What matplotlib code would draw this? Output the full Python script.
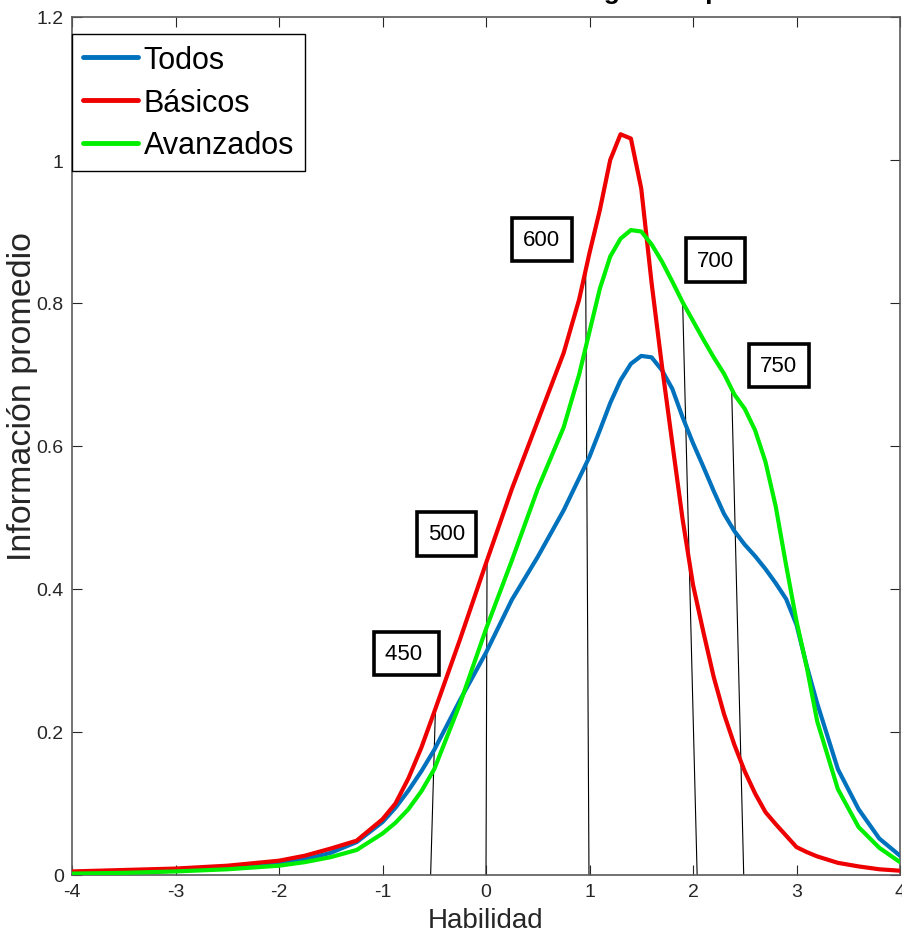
import matplotlib
matplotlib.use("Agg")
import matplotlib.pyplot as plt
from matplotlib import font_manager

SANS = ["Liberation Sans", "DejaVu Sans"]

# Ability grid (theta) and mean information per item group
theta = [-4.0, -3.5, -3.0, -2.5, -2.0, -1.75, -1.5, -1.25, -1.0, -0.875, -0.75, -0.625, -0.5, -0.25,
         0.0, 0.25, 0.5, 0.75, 0.9, 1.0, 1.1, 1.2, 1.3, 1.4, 1.5, 1.6, 1.7, 1.8, 1.9,
         2.0, 2.1, 2.2, 2.3, 2.4, 2.5, 2.6, 2.7, 2.8, 2.9, 3.0, 3.1, 3.2, 3.4, 3.6, 3.8, 4.0]

todos = [0.003, 0.004, 0.006, 0.010, 0.017, 0.022, 0.031, 0.046, 0.074, 0.094, 0.118, 0.145, 0.175, 0.245,
         0.311, 0.385, 0.445, 0.510, 0.555, 0.585, 0.622, 0.660, 0.692, 0.715, 0.726, 0.724, 0.706, 0.680, 0.640,
         0.604, 0.571, 0.537, 0.505, 0.481, 0.462, 0.446, 0.428, 0.408, 0.386, 0.350, 0.292, 0.240,
         0.148, 0.092, 0.051, 0.027]

basicos = [0.005, 0.007, 0.009, 0.013, 0.020, 0.027, 0.037, 0.048, 0.078, 0.100, 0.135, 0.178, 0.228, 0.330,
           0.436, 0.540, 0.635, 0.730, 0.805, 0.870, 0.930, 1.000, 1.036, 1.030, 0.960, 0.828, 0.712, 0.604, 0.497,
           0.406, 0.340, 0.277, 0.225, 0.182, 0.145, 0.114, 0.088, 0.071, 0.055, 0.039, 0.032, 0.026,
           0.017, 0.012, 0.008, 0.006]

avanzados = [0.002, 0.003, 0.005, 0.008, 0.013, 0.018, 0.025, 0.035, 0.058, 0.073, 0.092, 0.117, 0.148, 0.240,
             0.344, 0.440, 0.540, 0.626, 0.700, 0.760, 0.820, 0.865, 0.890, 0.902, 0.900, 0.882, 0.858, 0.830, 0.801,
             0.775, 0.749, 0.724, 0.701, 0.672, 0.652, 0.622, 0.578, 0.515, 0.433, 0.355, 0.290, 0.215,
             0.120, 0.067, 0.038, 0.018]

series_names = ["Todos", "Básicos", "Avanzados"]
series_colors = ["#0072bd", "#ee0000", "#00ee00"]

# Scale-score cut points: base on the axis, top on the curve, label box position
cut_labels = ["450 ", "500", "600", "700", "750"]
cut_base_x = [-0.535, 0.0, 0.995, 2.04, 2.49]
cut_top_x = [-0.49, 0.01, 0.963, 1.90, 2.374]
cut_top_y = [0.225, 0.438, 0.845, 0.801, 0.677]
label_x = [-0.77, -0.38, 0.54, 2.22, 2.83]
label_y = [0.31, 0.477, 0.889, 0.860, 0.713]

x_ticks = [-4, -3, -2, -1, 0, 1, 2, 3, 4]
y_ticks = [0, 0.2, 0.4, 0.6, 0.8, 1.0, 1.2]
y_tick_labels = ["0", "0.2", "0.4", "0.6", "0.8", "1", "1.2"]

W, H = 902, 945
fig = plt.figure(figsize=(W / 100, H / 100), dpi=100)
ax = fig.add_axes([72 / W, (H - 876) / H, 828 / W, 858 / H])

axis_gray = "#262626"

for xb, xt, yt in zip(cut_base_x, cut_top_x, cut_top_y):
    ax.plot([xb, xt], [0, yt], color="black", lw=0.8, zorder=1)

for ys, name, col in zip([todos, basicos, avanzados], series_names, series_colors):
    ax.plot(theta, ys, color=col, lw=3.0, label=name, zorder=3,
            solid_joinstyle="round", solid_capstyle="round")

for txt, lx, ly in zip(cut_labels, label_x, label_y):
    ax.text(lx, ly, txt, ha="center", va="center", fontsize=16, family=SANS,
            color="black", zorder=5,
            bbox=dict(boxstyle="square,pad=0.5", fc="white", ec="black", lw=2.6))

ax.set_xlim(-4, 4)
ax.set_ylim(0, 1.2)
ax.set_xticks(x_ticks)
ax.set_xticklabels([str(t) for t in x_ticks], family=SANS, fontsize=14)
ax.set_yticks(y_ticks)
ax.set_yticklabels(y_tick_labels, family=SANS, fontsize=14)
ax.tick_params(direction="in", length=7, width=0.8, colors=axis_gray,
               top=True, right=True, pad=6)
for sp in ax.spines.values():
    sp.set_color("#5a5a5a")
    sp.set_linewidth(1.2)

ax.set_xlabel("Habilidad", family=SANS, fontsize=20, color=axis_gray, labelpad=5)
ax.set_ylabel("Información promedio", family=SANS, fontsize=24.5, color=axis_gray)
ax.yaxis.set_label_coords(-0.041, 0.559)

leg = ax.legend(loc="upper left", bbox_to_anchor=(0.0, 1 - 17 / 858), borderaxespad=0,
                prop=font_manager.FontProperties(family=SANS, size=22),
                handlelength=1.8, handletextpad=0.2, labelspacing=0.42,
                borderpad=0.35, fancybox=False, framealpha=1)
leg.get_frame().set_edgecolor("black")
leg.get_frame().set_linewidth(1.0)
for line in leg.get_lines():
    line.set_linewidth(3.5)

fig.text(0.531, 1 + 1.0 / H, "Curvas de información de los ítems según el tipo de ítem",
         ha="center", va="baseline", fontsize=19, fontweight="bold", family=SANS)

fig.savefig("out.png", dpi=100)
